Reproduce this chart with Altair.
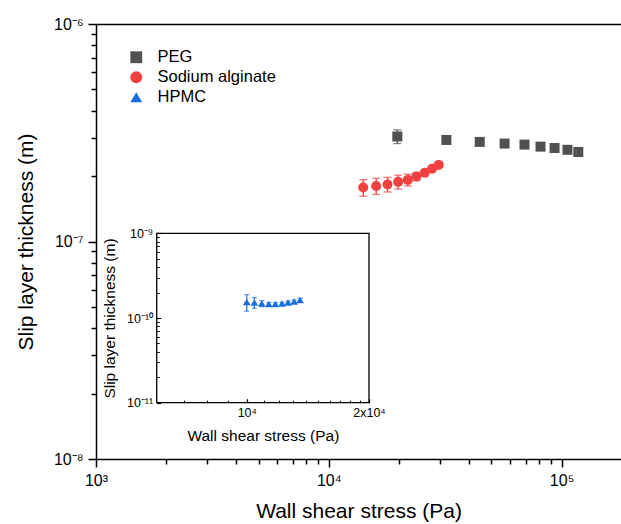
import altair as alt
import pandas as pd

# ---------------- data ----------------
series_names = ["PEG", "Sodium alginate", "HPMC"]
series_colors = ["#515151", "#F14040", "#1A6FDF"]
series_shapes = ["square", "circle", "triangle-up"]

peg_x = [19700, 32000, 44500, 56900, 69300, 81200, 93300, 106000, 118000]
peg_y = [3.04e-7, 2.93e-7, 2.87e-7, 2.82e-7, 2.79e-7, 2.73e-7, 2.69e-7, 2.64e-7, 2.58e-7]
peg_err = [2.2e-8, 0.3e-8, 0.3e-8, 0.4e-8, 0.3e-8, 0.4e-8, 0.4e-8, 0.3e-8, 0.4e-8]

alg_x = [14060, 15980, 17880, 19860, 21850, 23810, 25840, 27770, 29670]
alg_y = [1.77e-7, 1.80e-7, 1.83e-7, 1.88e-7, 1.92e-7, 1.99e-7, 2.07e-7, 2.16e-7, 2.25e-7]
alg_err = [1.56e-8, 1.53e-8, 1.41e-8, 1.38e-8, 1.19e-8, 0.86e-8, 0.67e-8, 0.58e-8, 0.48e-8]

hpmc_x = [10000, 10440, 10890, 11330, 11760, 12210, 12640, 13080, 13530]
hpmc_y = [1.545e-10, 1.524e-10, 1.483e-10, 1.463e-10, 1.463e-10, 1.483e-10, 1.524e-10, 1.566e-10, 1.631e-10]
hpmc_err = [0.34e-10, 0.22e-10, 0.12e-10, 0.06e-10, 0.05e-10, 0.05e-10, 0.06e-10, 0.07e-10, 0.08e-10]

main_x_domain = [1e3, 1.8e5]
main_y_domain = [1e-8, 1e-6]
main_x_ticks = [1e3, 1e4, 1e5]
main_x_labels = ["10³", "10⁴", "10⁵"]
main_x_minor = [2e3, 3e3, 4e3, 5e3, 6e3, 7e3, 8e3, 9e3,
                2e4, 3e4, 4e4, 5e4, 6e4, 7e4, 8e4, 9e4]
main_y_ticks = [1e-8, 1e-7, 1e-6]
main_y_labels = ["10⁻⁸", "10⁻⁷", "10⁻⁶"]
main_y_minor = [2e-8, 3e-8, 4e-8, 5e-8, 6e-8, 7e-8, 8e-8, 9e-8,
                2e-7, 3e-7, 4e-7, 5e-7, 6e-7, 7e-7, 8e-7, 9e-7]

inset_x_domain = [6e3, 2e4]
inset_y_domain = [1e-11, 1e-9]
inset_x_ticks = [1e4, 2e4]
inset_x_labels = ["10⁴", "2x10⁴"]
inset_x_minor = [7e3, 8e3, 9e3, 1.1e4, 1.2e4, 1.3e4, 1.4e4, 1.5e4, 1.6e4, 1.7e4, 1.8e4, 1.9e4]
inset_y_ticks = [1e-11, 1e-10, 1e-9]
inset_y_labels = ["10⁻¹¹", "10⁻¹⁰", "10⁻⁹"]
inset_y_minor = [2e-11, 3e-11, 4e-11, 5e-11, 6e-11, 7e-11, 8e-11, 9e-11,
                 2e-10, 3e-10, 4e-10, 5e-10, 6e-10, 7e-10, 8e-10, 9e-10]

# ---------------- layout ----------------
FONT = "Liberation Sans"
W, H = 525, 435
PAD = {"left": 96, "top": 24, "right": 0, "bottom": 65}
IX0, IX1 = 60.7, 273.0      # inset plot box inside main plot area (px)
IY_TOP, IY_BOT = 209.3, 378.7


def lbl_expr(vals, labels):
    expr = "''"
    for v, l in reversed(list(zip(vals, labels))):
        expr = f"abs(datum.value / {v} - 1) < 1e-6 ? '{l}' : ({expr})"
    return expr


def build_df(xs, ys, es, name):
    return pd.DataFrame({
        "x": xs, "y": ys,
        "lo": [y - e for y, e in zip(ys, es)],
        "hi": [y + e for y, e in zip(ys, es)],
        "series": name,
    })


df_peg = build_df(peg_x, peg_y, peg_err, "PEG")
df_alg = build_df(alg_x, alg_y, alg_err, "Sodium alginate")
df_main = pd.concat([df_peg, df_alg], ignore_index=True)
df_in = build_df(hpmc_x, hpmc_y, hpmc_err, "HPMC")
df_frame = pd.DataFrame({"x0": [inset_x_domain[0]], "x1": [inset_x_domain[1]],
                         "y0": [inset_y_domain[0]], "y1": [inset_y_domain[1]]})

color_scale = alt.Scale(domain=series_names, range=series_colors)
shape_scale = alt.Scale(domain=series_names, range=series_shapes)
legend = alt.Legend(orient="none", legendX=32, legendY=25, title=None,
                    labelFont=FONT, labelFontSize=16.5, labelColor="black",
                    symbolSize=140, symbolStrokeWidth=0, symbolOpacity=1,
                    rowPadding=3, labelOffset=13, padding=0)

xs_main = alt.Scale(type="log", domain=main_x_domain, nice=False)
ys_main = alt.Scale(type="log", domain=main_y_domain, nice=False)
xs_in = alt.Scale(type="log", domain=inset_x_domain, range=[IX0, IX1], nice=False)
ys_in = alt.Scale(type="log", domain=inset_y_domain, range=[IY_BOT, IY_TOP], nice=False)

common_axis = dict(grid=False, tickColor="black", domainColor="black", labelColor="black",
                   titleColor="black", labelFont=FONT, titleFont=FONT,
                   titleFontWeight="normal", labelFlush=False, labelOverlap=False)

ax_main_x = alt.Axis(orient="bottom", values=main_x_ticks, labelExpr=lbl_expr(main_x_ticks, main_x_labels),
                     tickSize=8, tickWidth=1.5, domainWidth=1.5, labelFontSize=16, labelPadding=5,
                     title="Wall shear stress (Pa)", titleFontSize=21, titlePadding=12, **common_axis)
ax_main_y = alt.Axis(orient="left", values=main_y_ticks, labelExpr=lbl_expr(main_y_ticks, main_y_labels),
                     tickSize=8, tickWidth=1.5, domainWidth=1.5, labelFontSize=16, labelPadding=5,
                     title="Slip layer thickness (m)", titleFontSize=21, titlePadding=17, **common_axis)


def errbar_layers(df, xs, ys, color, cap, width):
    rule = alt.Chart(df).mark_rule(strokeWidth=width, color=color).encode(
        x=alt.X("x:Q", scale=xs, axis=None),
        y=alt.Y("lo:Q", scale=ys, axis=None), y2="hi:Q")
    lo = alt.Chart(df).mark_tick(orient="horizontal", size=cap, thickness=width, color=color).encode(
        x=alt.X("x:Q", scale=xs, axis=None), y=alt.Y("lo:Q", scale=ys, axis=None))
    hi = alt.Chart(df).mark_tick(orient="horizontal", size=cap, thickness=width, color=color).encode(
        x=alt.X("x:Q", scale=xs, axis=None), y=alt.Y("hi:Q", scale=ys, axis=None))
    return [rule, lo, hi]


layers = []
layers += errbar_layers(df_peg, xs_main, ys_main, series_colors[0], 8, 1.3)
layers += errbar_layers(df_alg, xs_main, ys_main, series_colors[1], 8, 1.3)

# main points + main axes + legend
layers.append(alt.Chart(df_main).mark_point(filled=True, size=100, opacity=1, strokeWidth=0).encode(
    x=alt.X("x:Q", scale=xs_main, axis=ax_main_x),
    y=alt.Y("y:Q", scale=ys_main, axis=ax_main_y),
    color=alt.Color("series:N", scale=color_scale, legend=legend),
    shape=alt.Shape("series:N", scale=shape_scale, legend=legend)))

# main minor ticks
layers.append(alt.Chart(df_main).mark_point(opacity=0).encode(
    x=alt.X("x:Q", scale=xs_main, axis=alt.Axis(orient="bottom", values=main_x_minor, labels=False,
                                                 domain=False, tickSize=5, tickWidth=1.5, title=None,
                                                 **common_axis)),
    y=alt.Y("y:Q", scale=ys_main, axis=alt.Axis(orient="left", values=main_y_minor, labels=False,
                                                 domain=False, tickSize=5, tickWidth=1.5, title=None,
                                                 **common_axis))))

# main top spine
layers.append(alt.Chart(df_main).mark_point(opacity=0).encode(
    x=alt.X("x:Q", scale=xs_main, axis=alt.Axis(orient="top", labels=False, ticks=False, domain=True,
                                                 domainWidth=1.5, title=None, **common_axis)),
    y=alt.Y("y:Q", scale=ys_main, axis=None)))

# ---- inset ----
layers.append(alt.Chart(df_frame).mark_rect(fillOpacity=0, stroke="black", strokeWidth=1.3).encode(
    x=alt.X("x0:Q", scale=xs_in, axis=None), x2="x1:Q",
    y=alt.Y("y0:Q", scale=ys_in, axis=None), y2="y1:Q"))
layers += errbar_layers(df_in, xs_in, ys_in, series_colors[2], 5, 1.2)

ax_in_x = alt.Axis(orient="bottom", offset=-(H - IY_BOT), values=inset_x_ticks,
                   labelExpr=lbl_expr(inset_x_ticks, inset_x_labels), ticks=False, domain=False,
                   labelFontSize=12.5, labelPadding=4, title="Wall shear stress (Pa)",
                   titleFontSize=15.5, titlePadding=9, **common_axis)
ax_in_y = alt.Axis(orient="left", offset=-IX0, values=inset_y_ticks,
                   labelExpr=lbl_expr(inset_y_ticks, inset_y_labels), ticks=False, domain=False,
                   labelFontSize=12.5, labelPadding=4, title="Slip layer thickness (m)",
                   titleFontSize=15.5, titlePadding=9, **common_axis)
layers.append(alt.Chart(df_in).mark_point(filled=True, size=60, opacity=1, strokeWidth=0).encode(
    x=alt.X("x:Q", scale=xs_in, axis=ax_in_x),
    y=alt.Y("y:Q", scale=ys_in, axis=ax_in_y),
    color=alt.Color("series:N", scale=color_scale, legend=legend),
    shape=alt.Shape("series:N", scale=shape_scale, legend=legend)))

# inset inward ticks (top/right oriented axes moved onto the inset's bottom/left edges)
for vals_x, vals_y, ts, tw in [(inset_x_ticks, inset_y_ticks, 4, 1.2),
                               (inset_x_minor, inset_y_minor, 2.5, 1.0)]:
    layers.append(alt.Chart(df_in).mark_point(opacity=0).encode(
        x=alt.X("x:Q", scale=xs_in, axis=alt.Axis(orient="top", offset=-IY_BOT, values=vals_x,
                                                   labels=False, domain=False, tickSize=ts, tickWidth=tw,
                                                   title=None, **common_axis)),
        y=alt.Y("y:Q", scale=ys_in, axis=alt.Axis(orient="right", offset=-(W - IX0), values=vals_y,
                                                   labels=False, domain=False, tickSize=ts, tickWidth=tw,
                                                   title=None, **common_axis))))

chart = alt.layer(*layers).resolve_scale(
    x="independent", y="independent"
).properties(
    width=W, height=H, padding=PAD, autosize="none", background="white"
).configure_view(stroke=None)

chart.save("out.html", embed_options={"renderer": "svg", "actions": False})
